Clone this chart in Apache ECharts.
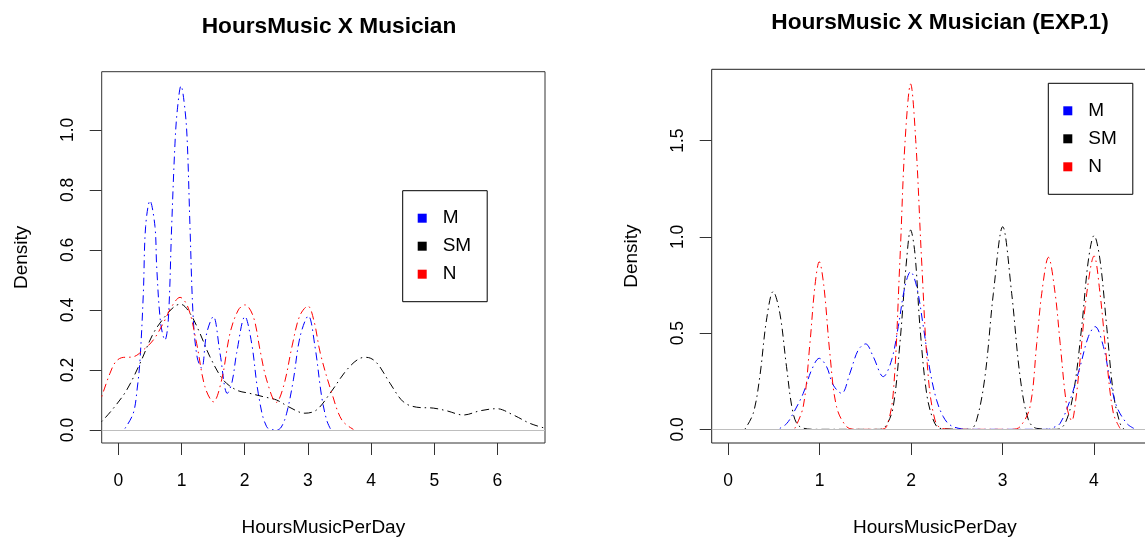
<!DOCTYPE html>
<html>
<head>
<meta charset="utf-8">
<script src="https://cdn.jsdelivr.net/npm/echarts@6/dist/echarts.min.js"></script>
<style>
  html, body { margin: 0; padding: 0; overflow: hidden; background: #ffffff; }
  #chart { width: 1170px; height: 538px; }
</style>
</head>
<body>
<div id="chart"></div>
<script>
// Kernel density curves of hours of music per day, by group (M, SM, N).
// Each curve is a list of [hours, density] pairs.

const groupNames = ['M', 'SM', 'N'];
const groupColors = ['#0000ff', '#000000', '#ff0000'];

// Left panel: all participants
const leftM = [[0.105,0.005],[0.237,0.056],[0.3,0.14],[0.343,0.233],[0.396,0.456],[0.432,0.678],[0.501,0.764],[0.58,0.678],[0.607,0.544],[0.67,0.356],[0.738,0.30],[0.791,0.367],[0.844,0.678],[0.897,0.956],[0.934,1.067],[0.992,1.147],[1.055,1.067],[1.092,0.956],[1.134,0.678],[1.187,0.367],[1.25,0.24],[1.319,0.206],[1.398,0.322],[1.503,0.378],[1.609,0.256],[1.725,0.122],[1.8,0.16],[1.872,0.256],[2.004,0.378],[2.11,0.289],[2.215,0.122],[2.347,0.011],[2.505,0.0],[2.58,0.01],[2.664,0.056],[2.77,0.167],[2.876,0.311],[3.007,0.38],[3.112,0.278],[3.218,0.111],[3.297,0.033],[3.361,0.002]];
const leftSM = [[-0.263,0.028],[-0.079,0.072],[0.132,0.133],[0.343,0.222],[0.554,0.322],[0.738,0.378],[0.897,0.413],[0.986,0.419],[1.134,0.389],[1.292,0.322],[1.45,0.244],[1.661,0.167],[1.872,0.133],[2.083,0.122],[2.294,0.111],[2.505,0.10],[2.69,0.078],[2.953,0.056],[3.138,0.067],[3.35,0.122],[3.614,0.2],[3.825,0.239],[3.93,0.242],[4.088,0.224],[4.299,0.156],[4.51,0.094],[4.721,0.076],[4.985,0.073],[5.196,0.064],[5.46,0.05],[5.724,0.064],[5.988,0.071],[6.251,0.05],[6.515,0.022],[6.752,0.006]];
const leftN = [[-0.263,0.111],[-0.2,0.15],[-0.132,0.189],[-0.05,0.225],[0.053,0.241],[0.237,0.244],[0.396,0.267],[0.554,0.30],[0.712,0.356],[0.844,0.411],[0.976,0.442],[1.108,0.406],[1.239,0.289],[1.371,0.144],[1.503,0.094],[1.635,0.167],[1.767,0.322],[1.899,0.40],[2.004,0.417],[2.136,0.378],[2.242,0.267],[2.347,0.167],[2.5,0.092],[2.62,0.15],[2.75,0.28],[2.87,0.38],[3.0,0.413],[3.1,0.36],[3.196,0.256],[3.38,0.122],[3.538,0.033],[3.72,0.002]];

// Right panel: EXP.1
const rightM = [[0.565,0.005],[0.64,0.03],[0.711,0.083],[0.821,0.187],[0.912,0.308],[0.996,0.369],[1.076,0.326],[1.149,0.23],[1.24,0.187],[1.331,0.291],[1.422,0.412],[1.503,0.444],[1.586,0.378],[1.696,0.274],[1.787,0.36],[1.86,0.534],[1.933,0.742],[1.995,0.819],[2.061,0.742],[2.134,0.534],[2.206,0.308],[2.279,0.152],[2.352,0.066],[2.425,0.023],[2.55,0.003],[2.7,0],[3.5,0],[3.56,0.01],[3.63,0.031],[3.739,0.152],[3.848,0.326],[3.939,0.482],[4.012,0.534],[4.103,0.43],[4.176,0.256],[4.249,0.118],[4.358,0.031],[4.435,0.005]];
const rightSM = [[0.182,0],[0.274,0.083],[0.346,0.274],[0.419,0.568],[0.492,0.716],[0.565,0.603],[0.638,0.326],[0.711,0.083],[0.784,0.014],[0.966,0],[1.66,0],[1.732,0.023],[1.805,0.118],[1.878,0.447],[1.951,0.88],[1.995,1.036],[2.042,0.915],[2.097,0.534],[2.17,0.187],[2.243,0.049],[2.316,0.005],[2.644,0],[2.717,0.049],[2.808,0.274],[2.9,0.707],[3.002,1.053],[3.1,0.707],[3.192,0.274],[3.283,0.049],[3.374,0.005],[3.593,0],[3.684,0.031],[3.775,0.187],[3.866,0.534],[3.939,0.88],[4.001,1.007],[4.066,0.88],[4.139,0.534],[4.212,0.187],[4.285,0.031],[4.33,0]];
const rightN = [[0.729,0.005],[0.821,0.118],[0.894,0.447],[0.948,0.742],[0.996,0.871],[1.047,0.742],[1.112,0.395],[1.185,0.118],[1.295,0.014],[1.404,0],[1.66,0],[1.732,0.014],[1.805,0.187],[1.878,0.88],[1.933,1.486],[1.995,1.795],[2.053,1.486],[2.115,0.88],[2.188,0.274],[2.261,0.049],[2.334,0.005],[2.5,0],[3.1,0],[3.192,0.014],[3.301,0.118],[3.374,0.447],[3.429,0.707],[3.502,0.894],[3.575,0.707],[3.63,0.447],[3.703,0.118],[3.757,0.045],[3.8,0.15],[3.848,0.36],[3.921,0.707],[4.001,0.901],[4.066,0.707],[4.139,0.36],[4.212,0.083],[4.285,0.005]];

// Tick values
const leftXTicks = [0, 1, 2, 3, 4, 5, 6];
const leftYTicks = [0, 0.2, 0.4, 0.6, 0.8, 1.0];
const rightXTicks = [0, 1, 2, 3, 4];
const rightYTicks = [0, 0.5, 1.0, 1.5];

const titles = ['HoursMusic X Musician', 'HoursMusic X Musician (EXP.1)'];
const xTitle = 'HoursMusicPerDay';
const yTitle = 'Density';

const FONT = '"Liberation Sans", Arial, Helvetica, sans-serif';
const dotDash = [1.5, 4, 8, 4];

function xAxisFor(gridIndex, min, max, ticks) {
  return {
    type: 'value', gridIndex, min, max,
    axisLine: { show: false, onZero: false },
    splitLine: { show: false },
    axisTick: { show: true, length: 12, customValues: ticks, lineStyle: { color: '#333', width: 1 } },
    axisLabel: { customValues: ticks, margin: 29, fontSize: 17.5, color: '#000', fontFamily: FONT },
    name: xTitle, nameLocation: 'middle', nameGap: 75,
    nameTextStyle: { fontSize: 19, color: '#000', fontFamily: FONT }
  };
}
function yAxisFor(gridIndex, min, max, ticks) {
  return {
    type: 'value', gridIndex, min, max,
    axisLine: { show: false, onZero: false },
    splitLine: { show: false },
    axisTick: { show: true, length: 12, customValues: ticks, lineStyle: { color: '#333', width: 1 } },
    axisLabel: { customValues: ticks, rotate: 90, margin: 25, fontSize: 17.5, color: '#000', fontFamily: FONT,
      formatter: v => v.toFixed(1) },
    name: yTitle, nameLocation: 'middle', nameGap: 70,
    nameTextStyle: { fontSize: 19, color: '#000', fontFamily: FONT }
  };
}
function curve(name, data, axisIndex, colorIndex, withBaseline) {
  const s = {
    name, type: 'line', data, xAxisIndex: axisIndex, yAxisIndex: axisIndex,
    smooth: 0.35, showSymbol: false, symbol: 'none', clip: true,
    color: groupColors[colorIndex],
    lineStyle: { color: groupColors[colorIndex], width: 1, type: dotDash },
    emphasis: { disabled: true }
  };
  if (withBaseline) {
    s.markLine = {
      silent: true, symbol: 'none', label: { show: false },
      lineStyle: { color: '#bebebe', type: 'solid', width: 1 },
      data: [{ yAxis: 0 }]
    };
  }
  return s;
}
function legendAt(left, top) {
  return {
    orient: 'vertical', left, top,
    data: groupNames,
    icon: 'rect', itemWidth: 9, itemHeight: 9, itemGap: 9,
    borderColor: '#000', borderWidth: 1,
    padding: [18, 16, 18, 15],
    itemStyle: { borderWidth: 0 },
    textStyle: { fontSize: 19, lineHeight: 19, color: '#000', fontFamily: FONT, padding: [0, 0, 0, 11] },
    selectedMode: false
  };
}

const chart = echarts.init(document.getElementById('chart'), null, { renderer: 'canvas' });
chart.setOption({
  animation: false,
  backgroundColor: '#ffffff',
  textStyle: { fontFamily: FONT },
  title: [
    { text: titles[0], left: 324, top: 10, textAlign: 'center',
      textStyle: { fontSize: 22.7, fontWeight: 'bold', color: '#000', fontFamily: FONT } },
    { text: titles[1], left: 935, top: 6.5, textAlign: 'center',
      textStyle: { fontSize: 22.7, fontWeight: 'bold', color: '#000', fontFamily: FONT } }
  ],
  legend: [legendAt(402.7, 190.7), legendAt(1048.3, 83.3)],
  grid: [
    { left: 101.7, top: 71.7, width: 443.3, height: 371.3, outerBoundsMode: 'none',
      show: true, borderColor: '#333', borderWidth: 1, backgroundColor: 'transparent' },
    { left: 711.7, top: 69.3, width: 446.3, height: 373.7, outerBoundsMode: 'none',
      show: true, borderColor: '#222', borderWidth: 1, backgroundColor: 'transparent' }
  ],
  xAxis: [xAxisFor(0, -0.263, 6.752, leftXTicks), xAxisFor(1, -0.18, 4.70, rightXTicks)],
  yAxis: [yAxisFor(0, -0.0433, 1.194, leftYTicks), yAxisFor(1, -0.071, 1.871, rightYTicks)],
  series: [
    curve('SM', leftSM, 0, 1, true),
    curve('M', leftM, 0, 0, false),
    curve('N', leftN, 0, 2, false),
    curve('SM', rightSM, 1, 1, true),
    curve('M', rightM, 1, 0, false),
    curve('N', rightN, 1, 2, false)
  ]
});
</script>
</body>
</html>
